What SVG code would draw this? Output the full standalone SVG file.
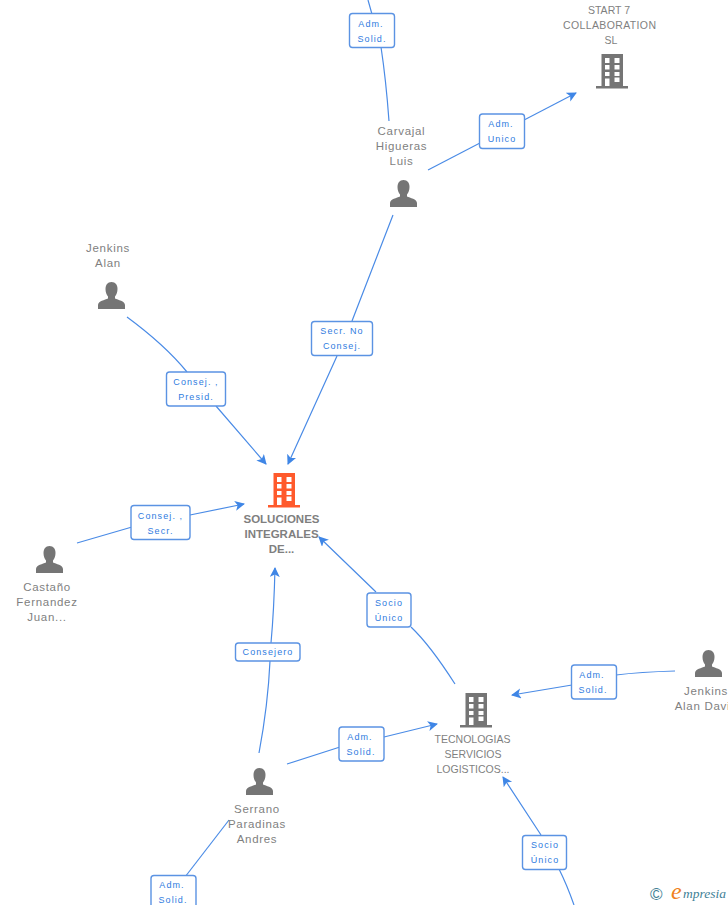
<svg xmlns="http://www.w3.org/2000/svg" xmlns:xlink="http://www.w3.org/1999/xlink" width="728" height="905" viewBox="0 0 728 905">
<style>
text{font-family:"Liberation Sans",Arial,sans-serif}
.n{font-size:11.5px;fill:#7f7f7f;text-anchor:middle;letter-spacing:.7px}
.c{font-size:10.5px;letter-spacing:0}
.b{font-size:11.5px;font-weight:bold;letter-spacing:0}
.l{font-size:9px;fill:#2f7be0;text-anchor:middle;letter-spacing:1.1px}
.box{fill:#fff;stroke:#5b93e3;stroke-width:1.4}
.e{fill:none;stroke:#4a8be6;stroke-width:1.2}
</style>
<defs>
<marker id="a" markerWidth="11" markerHeight="11" refX="9" refY="5" orient="auto" markerUnits="userSpaceOnUse"><path d="M0 0L10 5L0 10L2.500 5Z" fill="#3f86e6"/></marker>
<g id="bld"><path d="M5.500 0H27V32H32V34.500H0V32H5.500ZM9 4V9H13.500V4ZM18.500 4V9H23.500V4ZM9 11V15.500H13.500V11ZM18.500 11V15.500H23.500V11ZM9 18V22H13.500V18ZM18.500 18V22H23.500V18ZM9 24.500V32H13.500V24.500ZM18.500 23.500V28H23.500V23.500Z" fill-rule="evenodd"/></g>
<g id="per"><path d="M13.500 0C17.500 0 19.500 3 19.500 7C19.500 10 18.500 12.500 17 14.500V16.500C20 18 27 19 27 23V27H0V23C0 19 7 18 10 16.500V14.500C8.500 12.500 7.500 10 7.500 7C7.500 3 9.500 0 13.500 0Z"/></g>
</defs>
<g id="connectors">
<path class="e" d="M368 0Q372 14 381 47Q386 80 389 121"/>
<path class="e" marker-end="url(#a)" d="M428 170L576 93"/>
<path class="e" marker-end="url(#a)" d="M393 215L352 321M337 356L288 464"/>
<path class="e" marker-end="url(#a)" d="M127 317Q165 345 187 372M216 406L266 464"/>
<path class="e" marker-end="url(#a)" d="M77 543L132 527M190 515L244 504"/>
<path class="e" marker-end="url(#a)" d="M259 753Q268 705 270 661M271 643Q274 610 275 568"/>
<path class="e" marker-end="url(#a)" d="M455 684Q430 645 411 627M376 592L319 537"/>
<path class="e" marker-end="url(#a)" d="M287 764L340 747M384 737L437 724"/>
<path class="e" marker-end="url(#a)" d="M675 671Q640 672 616 675M572 685L512 695"/>
<path class="e" marker-end="url(#a)" d="M574 905Q567 885 559 869M541 835L503 777"/>
<path class="e" d="M229 820L185 877"/>
</g>
<g id="lbl-adm-solid-top"><rect class="box" x="349.500" y="13.500" width="45" height="34" rx="3"/><text class="l" x="371" y="27">Adm.</text><text class="l" x="372" y="42">Solid.</text></g>
<g id="lbl-adm-unico"><rect class="box" x="479.500" y="114" width="45" height="34.500" rx="3"/><text class="l" x="501" y="127">Adm.</text><text class="l" x="502" y="142">Unico</text></g>
<g id="lbl-secr"><rect class="box" x="311.500" y="321.500" width="61" height="34" rx="3"/><text class="l" x="342" y="334">Secr. No</text><text class="l" x="342" y="349">Consej.</text></g>
<g id="lbl-presid"><rect class="box" x="166.500" y="372" width="59" height="34" rx="3"/><text class="l" x="196" y="385">Consej. ,</text><text class="l" x="196" y="400">Presid.</text></g>
<g id="lbl-consej-secr"><rect class="box" x="131" y="505.500" width="59" height="34" rx="3"/><text class="l" x="160.500" y="519">Consej. ,</text><text class="l" x="160.500" y="534">Secr.</text></g>
<g id="lbl-consejero"><rect class="box" x="235.500" y="643" width="64.500" height="18" rx="3"/><text class="l" x="268" y="655">Consejero</text></g>
<g id="lbl-socio1"><rect class="box" x="367" y="593" width="44" height="34" rx="3"/><text class="l" x="389" y="606">Socio</text><text class="l" x="389" y="621">Único</text></g>
<g id="lbl-adm-solid-r"><rect class="box" x="571.500" y="665" width="45" height="34" rx="3"/><text class="l" x="592" y="678">Adm.</text><text class="l" x="593" y="693">Solid.</text></g>
<g id="lbl-adm-solid-c"><rect class="box" x="339" y="727" width="45" height="34" rx="3"/><text class="l" x="360" y="740">Adm.</text><text class="l" x="361" y="755">Solid.</text></g>
<g id="lbl-socio2"><rect class="box" x="522.500" y="835.500" width="44" height="34" rx="3"/><text class="l" x="545" y="848">Socio</text><text class="l" x="545" y="863">Único</text></g>
<g id="lbl-adm-solid-b"><rect class="box" x="151" y="875.500" width="45" height="34" rx="3"/><text class="l" x="172" y="888">Adm.</text><text class="l" x="173" y="903">Solid.</text></g>
<g id="start7"><text class="n c" x="609" y="14">START 7</text><text class="n c" x="609.500" y="29" textLength="93">COLLABORATION</text><text class="n c" x="611" y="44">SL</text><use href="#bld" x="596" y="54" fill="#757575"/></g>
<g id="carvajal"><text class="n" x="401.500" y="135">Carvajal</text><text class="n" x="401.500" y="150">Higueras</text><text class="n" x="401.500" y="165">Luis</text><use href="#per" x="390" y="180" fill="#757575"/></g>
<g id="jenkins-alan"><text class="n" x="108" y="252">Jenkins</text><text class="n" x="108" y="267">Alan</text><use href="#per" x="98" y="282" fill="#757575"/></g>
<g id="soluciones"><use href="#bld" x="268" y="473" fill="#ff5a2c"/><text class="n b" x="281.500" y="523">SOLUCIONES</text><text class="n b" x="281.500" y="538">INTEGRALES</text><text class="n b" x="281.500" y="553">DE...</text></g>
<g id="castano"><use href="#per" x="36" y="546" fill="#757575"/><text class="n" x="47" y="591">Castaño</text><text class="n" x="47" y="606">Fernandez</text><text class="n" x="47" y="621">Juan...</text></g>
<g id="jenkins-david"><use href="#per" x="695" y="650" fill="#757575"/><text class="n" x="706" y="695">Jenkins</text><text class="n" x="706" y="710">Alan David</text></g>
<g id="tecnologias"><use href="#bld" x="460" y="693" fill="#757575"/><text class="n c" x="472.500" y="743">TECNOLOGIAS</text><text class="n c" x="473" y="758">SERVICIOS</text><text class="n c" x="473" y="773">LOGISTICOS...</text></g>
<g id="serrano"><use href="#per" x="246" y="768" fill="#757575"/><text class="n" x="257" y="813">Serrano</text><text class="n" x="257" y="828">Paradinas</text><text class="n" x="257" y="843">Andres</text></g>
<g id="empresia"><text x="650" y="900" font-size="17" fill="#3f7f96">©</text><text x="671" y="899" font-size="24" font-style="italic" fill="#f08020" style="font-family:'Liberation Serif',serif">e</text><text x="683" y="898" font-size="13.500" font-style="italic" fill="#3f7f96" style="font-family:'Liberation Serif',serif">mpresia</text></g>
</svg>
